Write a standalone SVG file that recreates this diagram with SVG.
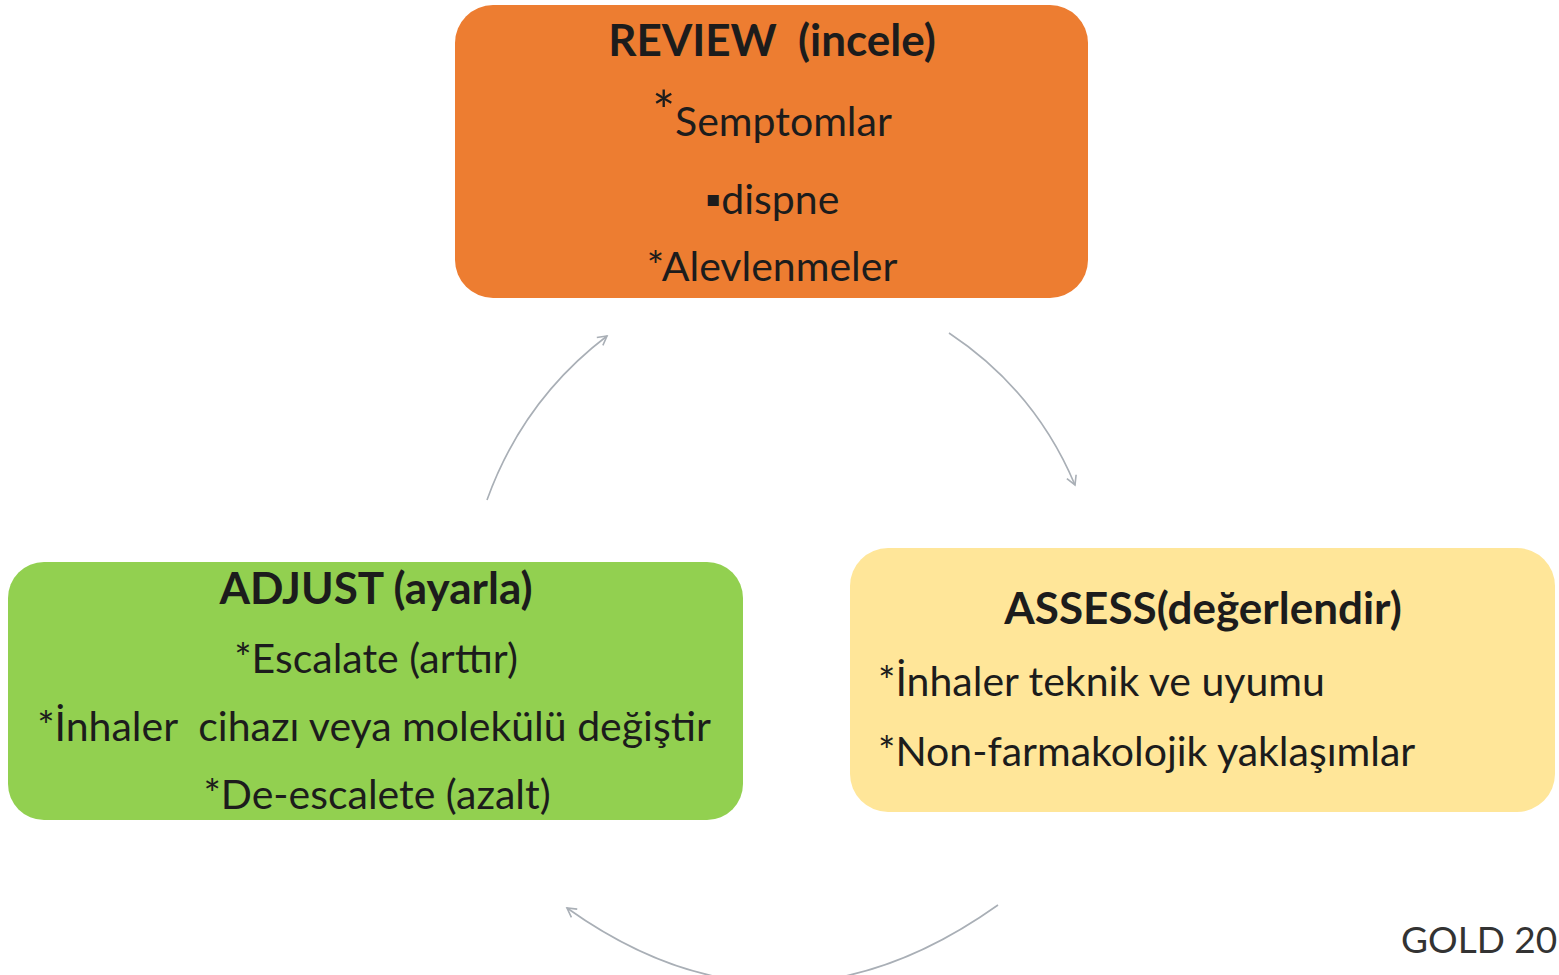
<svg xmlns="http://www.w3.org/2000/svg" width="1559" height="975" viewBox="0 0 1559 975">
<defs>
<style>
.t{font-family:Lato,"Liberation Sans",sans-serif;fill:#1c1c1c;text-anchor:middle;white-space:pre}
.h{font-size:44px;font-weight:bold}
.b{font-size:41px}
.l{text-anchor:start}
.c{fill:none;stroke:#a9afb6;stroke-width:1.6}
</style>
<marker id="ah" viewBox="0 0 12 12" refX="10" refY="6" markerWidth="12" markerHeight="12" markerUnits="userSpaceOnUse" orient="auto">
<path d="M1,1 L10,6 L1,11" fill="none" stroke="#a9afb6" stroke-width="1.6"/>
</marker>
</defs>
<rect width="1559" height="975" fill="#ffffff"/>
<g id="connectors">
<path class="c" d="M487,500 Q523,400 607,336" marker-end="url(#ah)"/>
<path class="c" d="M949,333 Q1035,390 1075,485" marker-end="url(#ah)"/>
<path class="c" d="M998,905 Q780,1060 567,908" marker-end="url(#ah)"/>
</g>
<g id="review">
<rect x="455" y="5" width="633" height="293" rx="38" fill="#ed7d31"/>
<text class="t h" x="772" y="56" xml:space="preserve">REVIEW  (incele)</text>
<text class="t b" x="772" y="136"><tspan font-size="54" dy="-6">*</tspan><tspan dy="6">Semptomlar</tspan></text>
<text class="t b" x="772" y="214">▪dispne</text>
<text class="t b" x="772" y="281">*Alevlenmeler</text>
</g>
<g id="adjust">
<rect x="8" y="562" width="735" height="258" rx="36" fill="#92d050"/>
<text class="t h" x="376" y="604">ADJUST (ayarla)</text>
<text class="t b" x="376" y="673">*Escalate (arttır)</text>
<text class="t b" x="374" y="741" xml:space="preserve">*İnhaler  cihazı veya molekülü değiştir</text>
<text class="t b" x="377" y="809">*De-escalete (azalt)</text>
</g>
<g id="assess">
<rect x="850" y="548" width="705" height="264" rx="38" fill="#ffe699"/>
<text class="t h" x="1203" y="624">ASSESS(değerlendir)</text>
<text class="t b l" x="878" y="696">*İnhaler teknik ve uyumu</text>
<text class="t b l" x="878" y="766">*Non-farmakolojik yaklaşımlar</text>
</g>
<text class="t l" x="1401" y="953" style="fill:#333;font-size:37px">GOLD 20</text>
</svg>
